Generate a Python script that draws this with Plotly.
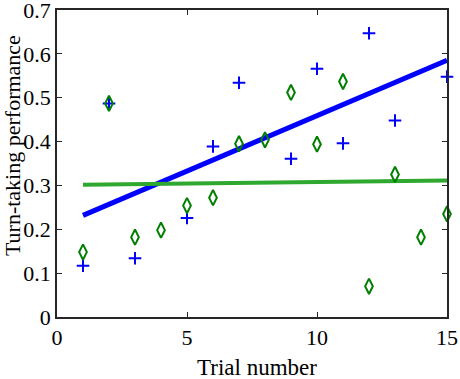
import numpy as np
import plotly.graph_objects as go

# Data
blue_x = [1, 2, 3, 5, 6, 7, 9, 10, 11, 12, 13, 15]
blue_y = [0.117, 0.487, 0.134, 0.226, 0.389, 0.534, 0.361, 0.566, 0.396, 0.647, 0.448, 0.548]
green_x = list(range(1, 16))
green_y = [0.148, 0.487, 0.182, 0.198, 0.254, 0.272, 0.395, 0.404, 0.512, 0.394,
           0.537, 0.070, 0.325, 0.182, 0.235]
x_ticks = [0, 5, 10, 15]
y_ticks = [0, 0.1, 0.2, 0.3, 0.4, 0.5, 0.6, 0.7]

# Least-squares fit lines
bfit = np.polyfit(blue_x, blue_y, 1)
gfit = np.polyfit(green_x, green_y, 1)
bx = np.array([min(blue_x), max(blue_x)])
gx = np.array([min(green_x), max(green_x)])

FONT = "Liberation Serif, Times New Roman, Times, serif"

fig = go.Figure()
fig.add_trace(go.Scatter(x=bx, y=np.polyval(bfit, bx), mode="lines",
                         line=dict(color="#0000FF", width=5), showlegend=False))
fig.add_trace(go.Scatter(x=gx, y=np.polyval(gfit, gx), mode="lines",
                         line=dict(color="#2EA82E", width=4), showlegend=False))
fig.add_trace(go.Scatter(x=blue_x, y=blue_y, mode="markers",
                         marker=dict(symbol="cross-thin", size=9, color="#0000FF",
                                     line=dict(color="#0000FF", width=2)),
                         showlegend=False, cliponaxis=False))
fig.add_trace(go.Scatter(x=green_x, y=green_y, mode="markers",
                         marker=dict(symbol="diamond-tall-open", size=11, color="#007F00",
                                     line=dict(color="#007F00", width=2)),
                         showlegend=False, cliponaxis=False))

axis_common = dict(showline=True, linecolor="#262626", linewidth=1.5, mirror="ticks",
                   ticks="inside", ticklen=5, tickwidth=1, tickcolor="#262626",
                   showgrid=False, zeroline=False, ticklabeloverflow="allow",
                   tickfont=dict(family=FONT, size=22, color="#000000"))

fig.update_xaxes(range=[0, 15], tickvals=x_ticks, ticktext=[str(v) for v in x_ticks],
                 **axis_common)
fig.update_yaxes(range=[0, 0.7], tickvals=y_ticks,
                 ticktext=["0" if v == 0 else f"{v:.1f}" for v in y_ticks],
                 ticklabelstandoff=0, **axis_common)

fig.add_annotation(text="Turn-taking performance", textangle=-90,
                   xref="paper", yref="paper", x=-0.1154, y=0.56,
                   xanchor="center", yanchor="middle", showarrow=False,
                   font=dict(family=FONT, size=22, color="#000000"))
fig.add_annotation(text="Trial number",
                   xref="paper", yref="paper", x=0.513, y=-0.166,
                   xanchor="center", yanchor="middle", showarrow=False,
                   font=dict(family=FONT, size=23, color="#000000"))

fig.update_layout(width=460, height=379, plot_bgcolor="white", paper_bgcolor="white",
                  font=dict(family=FONT),
                  margin=dict(l=57, r=13, t=10, b=62, autoexpand=False))

fig.write_html("out.html", config={"displayModeBar": False},
               post_script="document.body.style.margin='0';document.body.style.padding='0';")
